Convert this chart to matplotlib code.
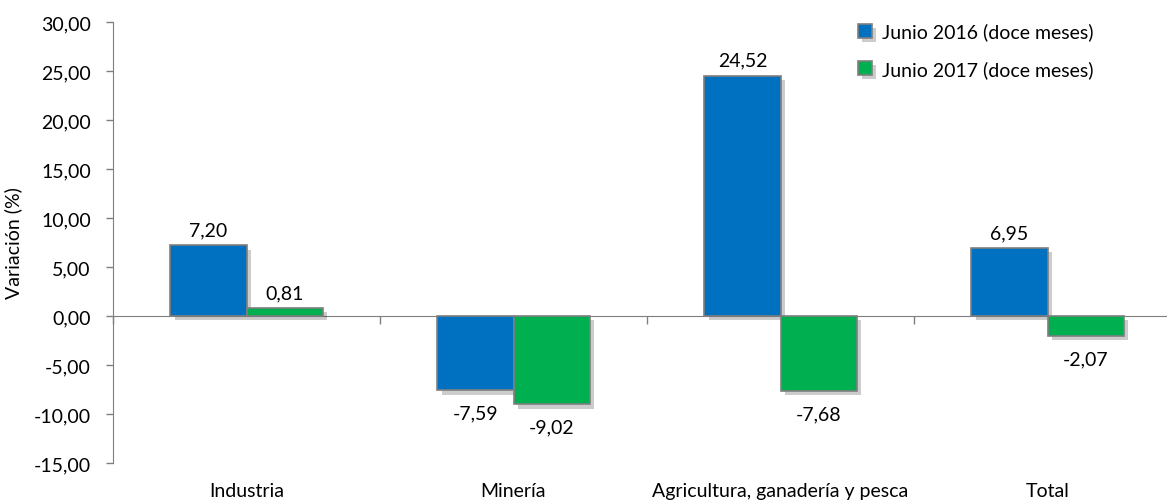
import matplotlib.pyplot as plt
import matplotlib.patheffects as pe
import numpy as np

plt.rcParams['font.family'] = ['Lato', 'DejaVu Sans']

categories = ["Industria", "Minería", "Agricultura, ganadería y pesca", "Total"]
jun_2016 = [7.20, -7.59, 24.52, 6.95]
jun_2017 = [0.81, -9.02, -7.68, -2.07]
series_names = ["Junio 2016 (doce meses)", "Junio 2017 (doce meses)"]
yticks = [-15, -10, -5, 0, 5, 10, 15, 20, 25, 30]

blue = "#0070C0"
green = "#00B050"
edge = "#7f7f7f"
fs = 14

fig = plt.figure(figsize=(11.67, 5.02), dpi=100)
# axes runs a little past the right edge, like the cropped original
ax = fig.add_axes([113 / 1167, 1 - 464 / 502, 1068 / 1167, 441 / 502])

x = np.arange(len(categories))
w = 0.285
shadow = [pe.SimplePatchShadow(offset=(3, -3), shadow_rgbFace="#000000", alpha=0.2), pe.Normal()]

b1 = ax.bar(x - w / 2, jun_2016, w, color=blue, edgecolor=edge, linewidth=1.2,
            label=series_names[0], zorder=3)
b2 = ax.bar(x + w / 2, jun_2017, w, color=green, edgecolor=edge, linewidth=1.2,
            label=series_names[1], zorder=3)
for r in list(b1) + list(b2):
    r.set_path_effects(shadow)

def fmt(v):
    return f"{v:.2f}".replace(".", ",")

for bars, vals in ((b1, jun_2016), (b2, jun_2017)):
    for r, v in zip(bars, vals):
        cx = r.get_x() + r.get_width() / 2
        if v >= 0:
            ax.annotate(fmt(v), (cx, v), xytext=(0, 5), textcoords="offset points",
                        ha="center", va="bottom", fontsize=fs)
        else:
            ax.annotate(fmt(v), (cx, v), xytext=(0, -10), textcoords="offset points",
                        ha="center", va="top", fontsize=fs)

ax.set_xlim(-0.5, len(categories) - 0.5)
ax.set_ylim(-15, 30)
ax.set_yticks(yticks)
ax.set_yticklabels([fmt(v) for v in yticks], fontsize=fs)
ax.set_ylabel("Variación (%)", fontsize=fs, labelpad=8)

for s in ["top", "right"]:
    ax.spines[s].set_visible(False)
ax.spines["left"].set_color(edge)
ax.spines["bottom"].set_position(("data", 0))
ax.spines["bottom"].set_color(edge)
ax.spines["bottom"].set_zorder(2)
ax.tick_params(axis="y", colors=edge, labelcolor="black", length=5, width=1, pad=11)
ax.set_xticks(np.arange(len(categories) + 1) - 0.5)
ax.set_xticklabels([])
ax.tick_params(axis="x", colors=edge, length=6, width=1, direction="out")

for i, c in enumerate(categories):
    ax.text(i, -0.063, c, transform=ax.get_xaxis_transform(), ha="center", va="center",
            fontsize=fs)

leg = fig.legend(handles=[b1, b2], labels=series_names, loc="upper left",
                 bbox_to_anchor=(840 / 1167, 1 - 6 / 502), frameon=False,
                 fontsize=fs, handlelength=0.75, handleheight=0.75, handletextpad=0.5,
                 labelspacing=1.0)

fig.savefig("out.png", dpi=100)
